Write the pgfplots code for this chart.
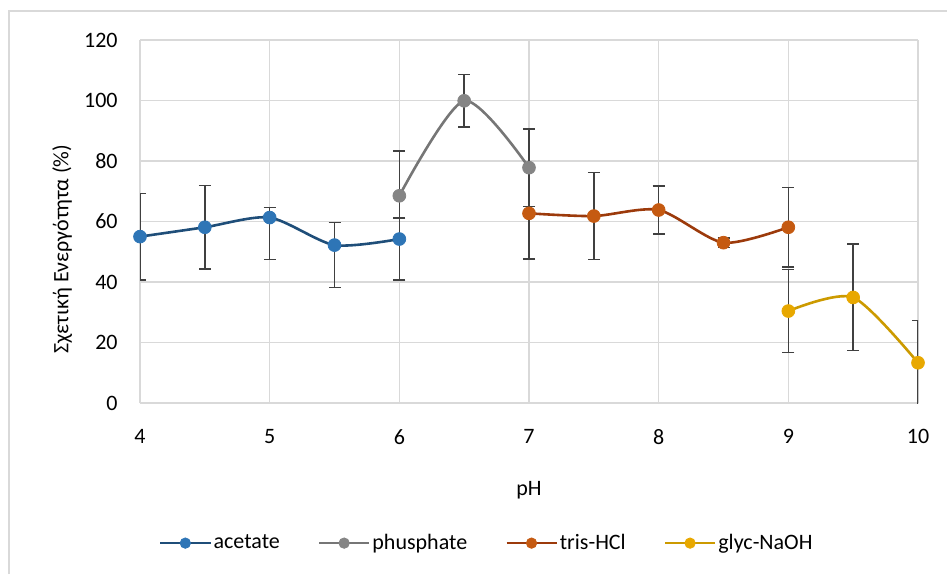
\documentclass[border=0pt]{standalone}
\usepackage{pgfplots}
\pgfplotsset{compat=1.18}
\usepackage{fontspec}
\setmainfont{Carlito}

\definecolor{acetL}{HTML}{1F4E79}
\definecolor{acetM}{HTML}{2E75B6}
\definecolor{phosL}{HTML}{767676}
\definecolor{phosM}{HTML}{858585}
\definecolor{trisL}{HTML}{9C3A0B}
\definecolor{trisM}{HTML}{C55A11}
\definecolor{glycL}{HTML}{CC9A00}
\definecolor{glycM}{HTML}{E8A800}
\definecolor{gridc}{HTML}{D9D9D9}
\definecolor{errc}{HTML}{404040}

\begin{document}
\begin{tikzpicture}
\useasboundingbox (0,0) rectangle (473.5pt,287pt);
% chart frame (cut at right and bottom in the reference)
\draw[gridc, line width=1pt] (4.5pt,0) -- (4.5pt,281.5pt) -- (473.5pt,281.5pt);
\begin{axis}[
  at={(70pt,85.5pt)}, anchor=south west,
  scale only axis, width=389pt, height=181.5pt,
  xmin=4, xmax=10, ymin=0, ymax=120,
  xtick={4,5,...,10}, ytick={0,20,...,120},
  major tick length=0pt,
  axis line style={draw=none},
  grid=major, grid style={gridc, line width=0.8pt},
  font=\fontsize{11}{13}\selectfont,
  /pgf/number format/assume math mode=true,
  yticklabel style={anchor=east, inner sep=0pt, xshift=-11pt},
  xticklabel style={anchor=north, inner sep=0pt, yshift=-13pt},
  xlabel={pH}, ylabel={Σχετική Ενεργότητα (\%)},
  every axis x label/.style={at={(axis description cs:0.5,-0.24)}, anchor=center},
  every axis y label/.style={at={(axis description cs:-0.1,0.424)}, rotate=90, anchor=center},
  legend columns=4,
  legend style={at={(0.447,-0.386)}, anchor=center, draw=none, fill=none,
    /tikz/every even column/.style={column sep=17pt},
    /tikz/every odd column/.style={column sep=-1pt}},
  legend image code/.code={\draw[mark repeat=2,mark phase=2,mark size=2.6pt]
    plot coordinates {(0pt,0pt)(12.5pt,0pt)(25pt,0pt)};},
  every axis plot/.append style={smooth, tension=0.45, line width=1.3pt,
    mark=*, mark size=3.2pt},
  error bars/error bar style={errc, line width=0.7pt, solid},
  error bars/error mark options={rotate=90, mark size=3pt, errc, line width=0.7pt},
]
\addplot[acetL, mark options={acetM, fill=acetM, line width=0.4pt},
  error bars/.cd, y dir=both, y explicit]
  coordinates {(4,55.0) +- (0,14.3)
               (4.5,58.1) +- (0,13.8)
               (5,61.3) += (0,3.4) -= (0,13.8)
               (5.5,52.2) += (0,7.5) -= (0,14.1)
               (6,54.2) += (0,6.9) -= (0,13.5)};
\addlegendentry{acetate}
\addplot[phosL, mark options={phosM, fill=phosM, line width=0.4pt},
  error bars/.cd, y dir=both, y explicit]
  coordinates {(6,68.5) += (0,14.8) -= (0,7.4)
               (6.5,99.9) +- (0,8.6)
               (7,77.8) +- (0,12.8)};
\addlegendentry{phusphate}
\addplot[trisL, mark options={trisM, fill=trisM, line width=0.4pt},
  error bars/.cd, y dir=both, y explicit]
  coordinates {(7,62.7) +- (0,15.1)
               (7.5,61.8) +- (0,14.3)
               (8,63.8) +- (0,7.9)
               (8.5,53.0) +- (0,1.5)
               (9,58.1) +- (0,13.2)};
\addlegendentry{tris-HCl}
\addplot[glycL, mark options={glycM, fill=glycM, line width=0.4pt},
  error bars/.cd, y dir=both, y explicit]
  coordinates {(9,30.4) +- (0,13.8)
               (9.5,34.9) +- (0,17.6)
               (10,13.3) +- (0,13.9)};
\addlegendentry{glyc-NaOH}
\end{axis}
\end{tikzpicture}
\end{document}
